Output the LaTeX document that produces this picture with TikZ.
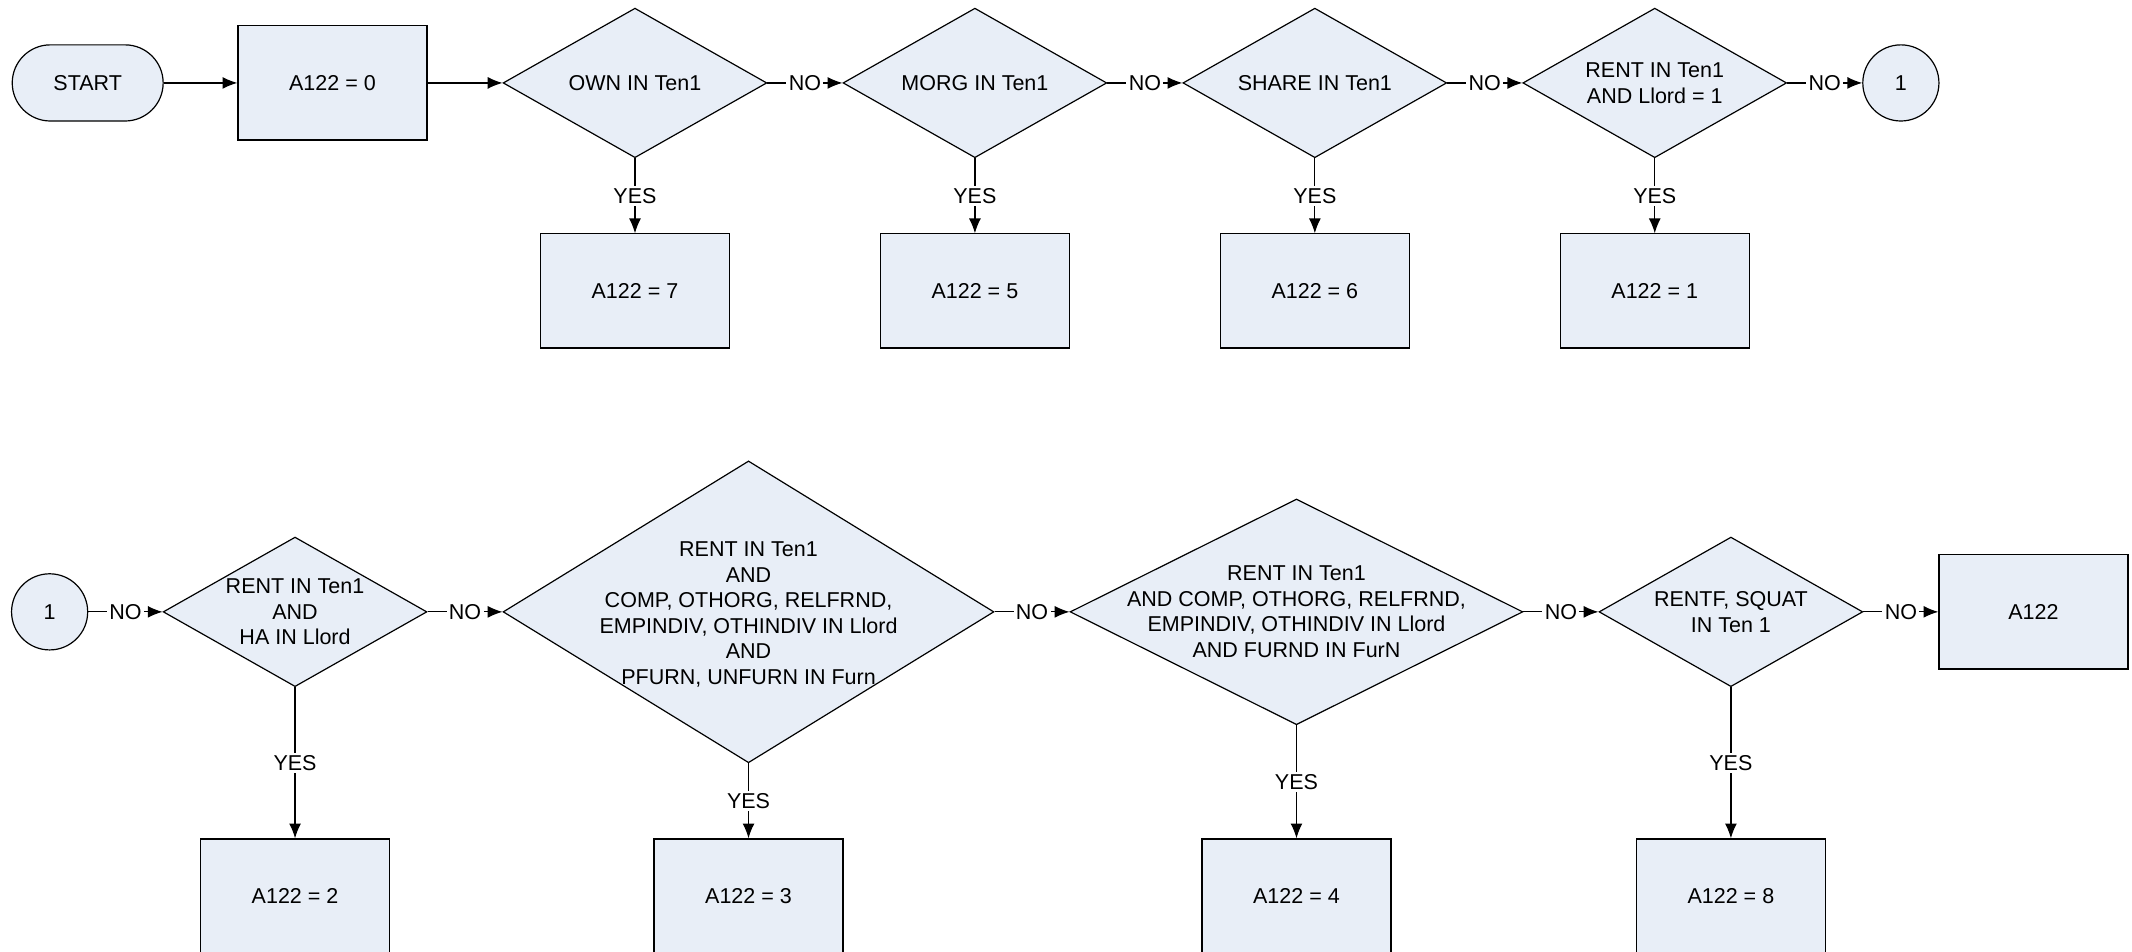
\documentclass[tikz,border=0pt]{standalone}
\usepackage{fontspec}
\setmainfont{Liberation Sans}
\usetikzlibrary{shapes.geometric, arrows.meta}
\definecolor{boxfill}{RGB}{232,238,247}

\tikzset{
	base/.style={draw, fill=boxfill, line width=0.5pt, font=\fontsize{9}{10.7}\selectfont, align=center, inner sep=0pt},
	terminal/.style={base, rectangle, rounded corners=0.56cm, minimum width=2.22cm, minimum height=1.12cm},
	process/.style={base, rectangle, minimum width=2.78cm, minimum height=1.68cm},
	decision/.style={base, diamond},
	onpage/.style={base, circle, minimum size=1.12cm},
	txt/.style={font=\fontsize{9}{10.7}\selectfont, align=center, inner sep=0pt},
	flow/.style={line width=0.5pt, -{Latex[length=6.2pt, width=5pt]}},
	lbl/.style={fill=white, font=\fontsize{9}{10.7}\selectfont, inner sep=1pt},
}

\begin{document}
\begin{tikzpicture}
	\useasboundingbox (0, 0) rectangle (31.36, 14);
	% Nodes, first row:
	\node[terminal](start) at (1.29, 12.78){START};
	\node[process](a0) at (4.89, 12.78){A122 = 0};
	\node[decision, minimum width=3.88cm, minimum height=2.2cm](own) at (9.34, 12.78){} node[txt](ownT) at (own.center){OWN IN Ten1};
	\node[decision, minimum width=3.88cm, minimum height=2.2cm](morg) at (14.34, 12.78){} node[txt](morgT) at (morg.center){MORG IN Ten1};
	\node[decision, minimum width=3.88cm, minimum height=2.2cm](share) at (19.34, 12.78){} node[txt](shareT) at (share.center){SHARE IN Ten1};
	\node[decision, minimum width=3.88cm, minimum height=2.2cm](llord) at (24.34, 12.78){} node[txt](llordT) at (llord.center){RENT IN Ten1\\AND Llord = 1};
	\node[onpage](c1) at (27.96, 12.78){1};
	\node[process](a7) at (9.34, 9.72){A122 = 7};
	\node[process](a5) at (14.34, 9.72){A122 = 5};
	\node[process](a6) at (19.34, 9.72){A122 = 6};
	\node[process](a1) at (24.34, 9.72){A122 = 1};
	% Nodes, second row:
	\node[onpage](c2) at (0.73, 5){1};
	\node[decision, minimum width=3.88cm, minimum height=2.2cm](ha) at (4.34, 5){} node[txt](haT) at (ha.center){RENT IN Ten1\\AND\\HA IN Llord};
	\node[decision, minimum width=7.22cm, minimum height=4.44cm](pfurn) at (11.01, 5){} node[txt](pfurnT) at ([yshift=-0.04cm]pfurn.center){RENT IN Ten1\\AND\\COMP, OTHORG, RELFRND,\\EMPINDIV, OTHINDIV IN Llord\\AND\\PFURN, UNFURN IN Furn};
	\node[decision, minimum width=6.66cm, minimum height=3.32cm](furnd) at (19.07, 5){} node[txt](furndT) at (furnd.center){RENT IN Ten1\\AND COMP, OTHORG, RELFRND,\\EMPINDIV, OTHINDIV IN Llord\\AND FURND IN FurN};
	\node[decision, minimum width=3.88cm, minimum height=2.2cm](squat) at (25.46, 5){} node[txt](squatT) at (squat.center){RENTF, SQUAT\\IN Ten 1};
	\node[process](a122) at (29.91, 5){A122};
	\node[process](a2) at (4.34, 0.82){A122 = 2};
	\node[process](a3) at (11.01, 0.82){A122 = 3};
	\node[process](a4) at (19.07, 0.82){A122 = 4};
	\node[process](a8) at (25.46, 0.82){A122 = 8};
	% Connectors:
	\draw[flow] (start.east) -- (a0.west);
	\draw[flow] (a0.east) -- (own.west);
	\draw[flow] (own.east) -- node[lbl](no1){NO} (morg.west);
	\draw[flow] (morg.east) -- node[lbl](no2){NO} (share.west);
	\draw[flow] (share.east) -- node[lbl](no3){NO} (llord.west);
	\draw[flow] (llord.east) -- node[lbl](no4){NO} (c1.west);
	\draw[flow] (own.south) -- node[lbl](yes1){YES} (a7.north);
	\draw[flow] (morg.south) -- node[lbl](yes2){YES} (a5.north);
	\draw[flow] (share.south) -- node[lbl](yes3){YES} (a6.north);
	\draw[flow] (llord.south) -- node[lbl](yes4){YES} (a1.north);
	\draw[flow] (c2.east) -- node[lbl](no5){NO} (ha.west);
	\draw[flow] (ha.east) -- node[lbl](no6){NO} (pfurn.west);
	\draw[flow] (pfurn.east) -- node[lbl](no7){NO} (furnd.west);
	\draw[flow] (furnd.east) -- node[lbl](no8){NO} (squat.west);
	\draw[flow] (squat.east) -- node[lbl](no9){NO} (a122.west);
	\draw[flow] (ha.south) -- node[lbl](yes5){YES} (a2.north);
	\draw[flow] (pfurn.south) -- node[lbl](yes6){YES} (a3.north);
	\draw[flow] (furnd.south) -- node[lbl](yes7){YES} (a4.north);
	\draw[flow] (squat.south) -- node[lbl](yes8){YES} (a8.north);
\end{tikzpicture}
\end{document}
